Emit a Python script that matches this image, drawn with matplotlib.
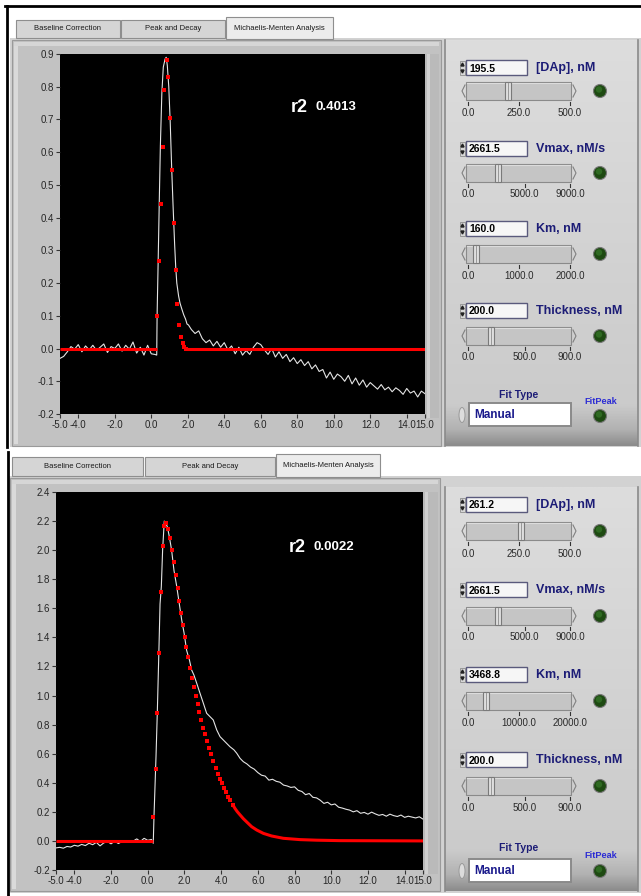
import matplotlib.pyplot as plt
import numpy as np
from matplotlib.colors import LinearSegmentedColormap
from matplotlib.patches import Circle, Ellipse, Polygon, Rectangle

plt.rcParams["font.family"] = ["Liberation Sans", "DejaVu Sans"]

W, H = 641, 896

# ---- top run (r2 0.4013) ----
top_r2 = "0.4013"
top_pre_y = [-0.030, -0.024, -0.010, 0.006, -0.002, 0.012, -0.010, 0.008, -0.004, 0.010,
             -0.006, 0.004, 0.014, -0.012, 0.006, 0.000, 0.014, -0.008, 0.010, -0.002,
             0.020, -0.014, 0.004, -0.020, 0.010, -0.016, -0.018]
top_peak_t = [0.30, 0.32, 0.38, 0.44, 0.50, 0.58, 0.66, 0.76, 0.82, 0.88, 0.96, 1.04, 1.12,
              1.20, 1.28, 1.34, 1.40, 1.50, 1.58, 1.68, 1.78, 1.88, 1.96, 2.04]
top_peak_y = [-0.02, 0.10, 0.27, 0.45, 0.62, 0.78, 0.86, 0.885, 0.89, 0.865, 0.80, 0.69, 0.55,
              0.43, 0.32, 0.25, 0.20, 0.16, 0.138, 0.12, 0.103, 0.09, 0.075, 0.072]
top_tail_y = [0.058, 0.046, 0.054, 0.030, 0.018, 0.026, 0.008, 0.022, 0.004, 0.018,
              -0.004, 0.008, -0.016, 0.004, -0.020, -0.006, -0.018, 0.004, 0.018, 0.012,
              -0.004, -0.018, 0.000, -0.026, -0.010, -0.030, -0.018, -0.040, -0.028, -0.046,
              -0.034, -0.052, -0.040, -0.062, -0.050, -0.070, -0.064, -0.090, -0.072, -0.094,
              -0.078, -0.086, -0.100, -0.082, -0.108, -0.090, -0.112, -0.096, -0.118, -0.104,
              -0.114, -0.124, -0.110, -0.126, -0.118, -0.132, -0.120, -0.128, -0.140, -0.122,
              -0.136, -0.130, -0.148, -0.130, -0.138]
top_fit_t = [0.30, 0.44, 0.53, 0.64, 0.72, 0.85, 0.94, 1.03, 1.12, 1.25, 1.34, 1.43, 1.54,
             1.65, 1.72, 1.79, 1.90]
top_fit_y = [0.10, 0.268, 0.441, 0.616, 0.789, 0.882, 0.831, 0.705, 0.546, 0.383, 0.239,
             0.135, 0.071, 0.036, 0.018, 0.006, 0.0]
top_fit_pre_t = [-5.0, 0.3]
top_fit_pre_y = [0.0, 0.0]
top_fit_tail_t = [1.9, 15.0]
top_fit_tail_y = [0.0, 0.0]

# ---- bottom run (r2 0.0022) ----
bot_r2 = "0.0022"
bot_pre_y = [-0.048, -0.044, -0.050, -0.038, -0.042, -0.030, -0.036, -0.024, -0.032, -0.016,
             -0.026, -0.010, -0.034, -0.014, -0.004, -0.020, -0.002, -0.018, -0.004, -0.010,
             -0.006, -0.002, 0.014, -0.004, 0.018, 0.004, 0.010]
bot_peak_t = [0.30, 0.34, 0.45, 0.52, 0.60, 0.67, 0.74, 0.81, 0.90, 0.98, 1.07, 1.18, 1.30,
              1.43, 1.58, 1.72, 1.85, 1.98, 2.12, 2.27, 2.39, 2.52, 2.67, 2.85, 3.03, 3.21,
              3.39, 3.57, 3.76, 3.94, 4.12, 4.30, 4.48, 4.70, 4.85, 5.03, 5.21]
bot_peak_y = [-0.016, 0.167, 0.58, 0.88, 1.27, 1.63, 1.75, 2.00, 2.20, 2.185, 2.16, 2.09, 2.00,
              1.86, 1.75, 1.63, 1.52, 1.43, 1.31, 1.245, 1.176, 1.14, 1.084, 1.015, 0.947, 0.878,
              0.855, 0.832, 0.763, 0.717, 0.694, 0.671, 0.648, 0.626, 0.603, 0.568, 0.545]
bot_tail_y = [0.530, 0.508, 0.494, 0.470, 0.452, 0.446, 0.418, 0.424, 0.410, 0.404,
              0.384, 0.378, 0.368, 0.372, 0.348, 0.340, 0.318, 0.326, 0.300, 0.296,
              0.280, 0.258, 0.266, 0.248, 0.254, 0.232, 0.226, 0.218, 0.212, 0.200,
              0.208, 0.190, 0.196, 0.184, 0.198, 0.186, 0.176, 0.182, 0.170, 0.184,
              0.174, 0.168, 0.178, 0.162, 0.170, 0.164, 0.158, 0.166, 0.150]
bot_fit_t = [0.30, 0.43, 0.52, 0.61, 0.70, 0.83, 0.90, 0.99, 1.10, 1.21, 1.32, 1.41, 1.54,
             1.63, 1.72, 1.81, 1.92, 2.01, 2.08, 2.19, 2.29, 2.41, 2.50, 2.61, 2.72, 2.79,
             2.90, 3.03, 3.14, 3.25, 3.36, 3.47, 3.57, 3.70, 3.81, 3.92, 4.05, 4.16, 4.26,
             4.39, 4.50, 4.63]
bot_fit_y = [0.167, 0.497, 0.88, 1.295, 1.712, 2.029, 2.166, 2.19, 2.146, 2.082, 1.999, 1.919,
             1.829, 1.74, 1.652, 1.568, 1.485, 1.405, 1.336, 1.263, 1.192, 1.123, 1.057, 0.997,
             0.942, 0.887, 0.832, 0.779, 0.733, 0.690, 0.642, 0.596, 0.552, 0.504, 0.463,
             0.428, 0.396, 0.367, 0.337, 0.305, 0.279, 0.250]
bot_fit_pre_t = [-5.0, 0.3]
bot_fit_pre_y = [0.0, 0.0]
bot_fit_tail_t = [4.63, 4.75, 4.88, 5.03, 5.21, 5.43, 5.66, 5.94, 6.30, 6.75, 7.39, 8.30,
                  9.21, 10.48, 15.0]
bot_fit_tail_y = [0.250, 0.224, 0.201, 0.179, 0.153, 0.126, 0.098, 0.075, 0.052, 0.034,
                  0.018, 0.009, 0.005, 0.002, 0.0]

x_ticks = [-5, -4, -2, 0, 2, 4, 6, 8, 10, 12, 14, 15]
top_y_ticks = [-0.2, -0.1, 0.0, 0.1, 0.2, 0.3, 0.4, 0.5, 0.6, 0.7, 0.8, 0.9]
bot_y_ticks = [-0.2, 0.0, 0.2, 0.4, 0.6, 0.8, 1.0, 1.2, 1.4, 1.6, 1.8, 2.0, 2.2, 2.4]

tab_names = ["Baseline Correction", "Peak and Decay", "Michaelis-Menten Analysis"]
control_labels = ["[DAp], nM", "Vmax, nM/s", "Km, nM", "Thickness, nM"]
top_values = [195.5, 2661.5, 160.0, 200.0]
top_slider_ticks = [[0, 250, 500], [0, 5000, 9000], [0, 1000, 2000], [0, 500, 900]]
bot_values = [261.2, 2661.5, 3468.8, 200.0]
bot_slider_ticks = [[0, 250, 500], [0, 5000, 9000], [0, 10000, 20000], [0, 500, 900]]
fit_type = "Manual"

NAVY = "#1c1c76"

fig = plt.figure(figsize=(W / 100, H / 100), dpi=100)
fig.patch.set_facecolor("white")


def px_axes(x0, y0, x1, y1, z):
    ax = fig.add_axes([x0 / W, 1 - y1 / H, (x1 - x0) / W, (y1 - y0) / H], zorder=z)
    return ax


bg = px_axes(0, 0, W, H, 0)
fg = px_axes(0, 0, W, H, 5)
for a in (bg, fg):
    a.set_xlim(0, W)
    a.set_ylim(H, 0)
    a.axis("off")
fg.patch.set_alpha(0)

panel_cmap = LinearSegmentedColormap.from_list(
    "panel", [(0, "#dddddd"), (0.9, "#cbcbcb"), (0.96, "#b2b2b2"), (1, "#8c8c8c")]
)
grad = np.linspace(0, 1, 256).reshape(-1, 1)


def rect(x0, y0, x1, y1, fc, ec="none", lw=0.8, z=1):
    bg.add_patch(Rectangle((x0, y0), x1 - x0, y1 - y0, facecolor=fc, edgecolor=ec, linewidth=lw, zorder=z))


def draw_tabs(tabs):
    for (x0, y0, x1, y1, selected), name in zip(tabs, tab_names):
        rect(x0, y0, x1, y1, "#ececec" if selected else "#d5d5d5", "#8e8e8e", 0.8, 2)
        bg.text((x0 + x1) / 2, (y0 + y1) / 2, name, ha="center", va="center", fontsize=5.5,
                color="#1a1a1a", zorder=3)


def draw_graph(box, ylim, yticks, t, y, fit_t, fit_y, pre_t, pre_y, tail_t, tail_y, r2, r2_pos):
    ax = px_axes(*box, 2)
    ax.set_facecolor("black")
    ax.plot(t, y, color="#e4e4e4", lw=0.8)
    ax.plot(pre_t, pre_y, color="#ff0000", lw=2.2, solid_capstyle="butt")
    ax.plot(tail_t, tail_y, color="#ff0000", lw=2.2, solid_capstyle="butt")
    ax.plot(fit_t, fit_y, "s", color="#ff0000", ms=2.6, mew=0)
    ax.set_xlim(-5, 15)
    ax.set_ylim(*ylim)
    ax.set_xticks(x_ticks)
    ax.set_xticklabels([f"{v:.1f}" for v in x_ticks])
    ax.set_yticks(yticks)
    ax.set_yticklabels([f"{v:.1f}" for v in yticks])
    ax.tick_params(direction="out", length=3, width=0.8, color="#333333", labelsize=7,
                   labelcolor="#262626", pad=1.5)
    for s in ax.spines.values():
        s.set_visible(False)
    rx, ry = r2_pos
    fg.text(rx, ry, "r2", color="white", fontsize=13, fontweight="bold", va="baseline")
    fg.text(rx + 24, ry - 2, r2, color="white", fontsize=9.5, fontweight="bold", va="baseline")


def draw_controls(rows, values, slider_ticks, fit_rows):
    for (by, sy, ty), label, val, tks in zip(rows, control_labels, values, slider_ticks):
        # spinner + numeric box
        rect(460, by - 7, 465, by + 7, "#d8d8d8", "#8e8e8e", 0.6, 3)
        bg.add_patch(Polygon([(461, by - 2), (464, by - 2), (462.5, by - 5)], color="#222", zorder=4))
        bg.add_patch(Polygon([(461, by + 2), (464, by + 2), (462.5, by + 5)], color="#222", zorder=4))
        rect(466, by - 7.5, 527, by + 7.5, "#f6f6f6", "#5a5a7c", 1.0, 3)
        bg.text(469, by + 0.5, f"{val:.1f}", fontsize=7.5, fontweight="bold", color="black",
                va="center", zorder=4)
        bg.text(536, by, label, fontsize=9, fontweight="bold", color=NAVY, va="center", zorder=4)
        # slider
        bg.plot([465, 462, 465], [sy - 6, sy, sy + 6], color="#808080", lw=0.8, zorder=3)
        bg.plot([573, 576, 573], [sy - 6, sy, sy + 6], color="#808080", lw=0.8, zorder=3)
        rect(466, sy - 9, 571, sy + 9, "#c5c5c5", "#8a8a8a", 0.8, 3)
        bg.plot([467, 570], [sy - 7.5, sy - 7.5], color="#dcdcdc", lw=0.8, zorder=3)
        sx = 468 + val / tks[-1] * 102
        rect(sx - 3, sy - 9, sx + 3, sy + 9, "#dedede", "#7a7a7a", 0.8, 4)
        bg.plot([sx, sx], [sy - 8, sy + 8], color="#8c8c8c", lw=0.6, zorder=4)
        for tk in tks:
            tx = 468 + tk / tks[-1] * 102
            bg.plot([tx, tx], [sy + 11, sy + 14], color="#333", lw=0.8, zorder=3)
            bg.text(tx, ty, f"{tk:.1f}", fontsize=7, color="#2a2a2a", ha="center", va="center",
                    zorder=3)
        # LED
        bg.add_patch(Circle((600, sy), 6.5, facecolor="#1e4a12", edgecolor="#777", lw=0.8, zorder=3))
        bg.add_patch(Circle((599, sy - 1.5), 3.2, facecolor="#2f6a22", edgecolor="none", zorder=4))
    ly, ry, py, led_y = fit_rows
    bg.text(519, ly, "Fit Type", fontsize=7.5, fontweight="bold", color=NAVY, ha="center",
            va="center", zorder=3)
    bg.add_patch(Ellipse((462, ry), 6, 15, facecolor="#dcdcdc", edgecolor="#9a9a9a", lw=0.7, zorder=3))
    rect(469, ry - 11.5, 571, ry + 11.5, "white", "#8a8a8a", 1.4, 3)
    bg.text(474, ry + 0.5, fit_type, fontsize=8.5, fontweight="bold", color="#1a1a8c", va="center",
            zorder=4)
    bg.text(601, py, "FitPeak", fontsize=6.6, fontweight="bold", color="#2c2cd4", ha="center",
            va="center", zorder=3)
    bg.add_patch(Circle((600, led_y), 6.5, facecolor="#1e4a12", edgecolor="#777", lw=0.8, zorder=3))
    bg.add_patch(Circle((599, led_y - 1.5), 3.2, facecolor="#2f6a22", edgecolor="none", zorder=4))


def draw_frame(page, graph, plot_box, ctrl):
    rect(*page, "#d2d2d2", z=1)
    gx0, gy0, gx1, gy1 = graph
    rect(gx0, gy0, gx1, gy1, "#c2c2c2", "#9a9a9a", 0.8, 1.2)
    rect(gx0 + 2, gy0 + 2, gx0 + 6, gy1 - 2, "#dadada", z=1.3)
    rect(gx0 + 2, gy0 + 2, gx1 - 2, gy0 + 6, "#d6d6d6", z=1.3)
    px0, py0, px1, py1 = plot_box
    rect(px1, py0, gx1 - 2, py1 + 4, "#bababa", z=1.4)
    rect(px1 + 2, py0, px1 + 5, py1 + 4, "#d0d0d0", z=1.5)
    cx0, cy0, cx1, cy1 = ctrl
    bg.imshow(grad, extent=(cx0, cx1, cy1, cy0), cmap=panel_cmap, aspect="auto", zorder=1.5)
    bg.plot([cx0, cx0], [cy0, cy1], color="#8a8a8a", lw=1.2, zorder=1.6)
    bg.plot([cx1, cx1], [cy0, cy1], color="#8a8a8a", lw=1.2, zorder=1.6)


# outer window edges
bg.plot([5, W], [6, 6], color="black", lw=2, zorder=5)
bg.plot([6.5, 6.5], [6, 447], color="black", lw=2, zorder=5)
bg.plot([7.5, 7.5], [452, H], color="black", lw=2, zorder=5)

# ---- top panel ----
draw_frame((10, 38, W, 447), (12, 40, 441, 446), (60, 54, 425, 414), (445, 40, 638, 446))
draw_tabs([(16, 20, 120, 38, False), (121, 20, 225, 38, False), (226, 17, 333, 39, True)])
top_t = np.concatenate([np.linspace(-5.0, 0.2, len(top_pre_y)), top_peak_t,
                        np.linspace(2.2, 15.0, len(top_tail_y))])
top_y = np.concatenate([top_pre_y, top_peak_y, top_tail_y])
draw_graph((60, 54, 425, 414), (-0.2, 0.9), top_y_ticks, top_t, top_y, top_fit_t, top_fit_y,
           top_fit_pre_t, top_fit_pre_y, top_fit_tail_t, top_fit_tail_y, top_r2, (291, 112))
draw_controls([(68, 91, 113), (149, 173, 194), (229, 254, 276), (311, 336, 357)],
              top_values, top_slider_ticks, (395, 415, 402, 416))

# ---- bottom panel ----
draw_frame((9, 476, W, 893), (10, 478, 440, 891), (56, 492, 423, 870), (445, 487, 638, 891))
draw_tabs([(12, 457, 143, 476, False), (145, 457, 275, 476, False), (276, 454, 380, 477, True)])
bot_t = np.concatenate([np.linspace(-5.0, 0.2, len(bot_pre_y)), bot_peak_t,
                        np.linspace(5.4, 15.0, len(bot_tail_y))])
bot_y = np.concatenate([bot_pre_y, bot_peak_y, bot_tail_y])
draw_graph((56, 492, 423, 870), (-0.2, 2.4), bot_y_ticks, bot_t, bot_y, bot_fit_t, bot_fit_y,
           bot_fit_pre_t, bot_fit_pre_y, bot_fit_tail_t, bot_fit_tail_y, bot_r2, (289, 552))
draw_controls([(505, 531, 554), (590, 616, 637), (675, 701, 723), (760, 786, 808)],
              bot_values, bot_slider_ticks, (848, 871, 855, 871))

bg.set_xlim(0, W)
bg.set_ylim(H, 0)

fig.savefig("out.png", dpi=100)
